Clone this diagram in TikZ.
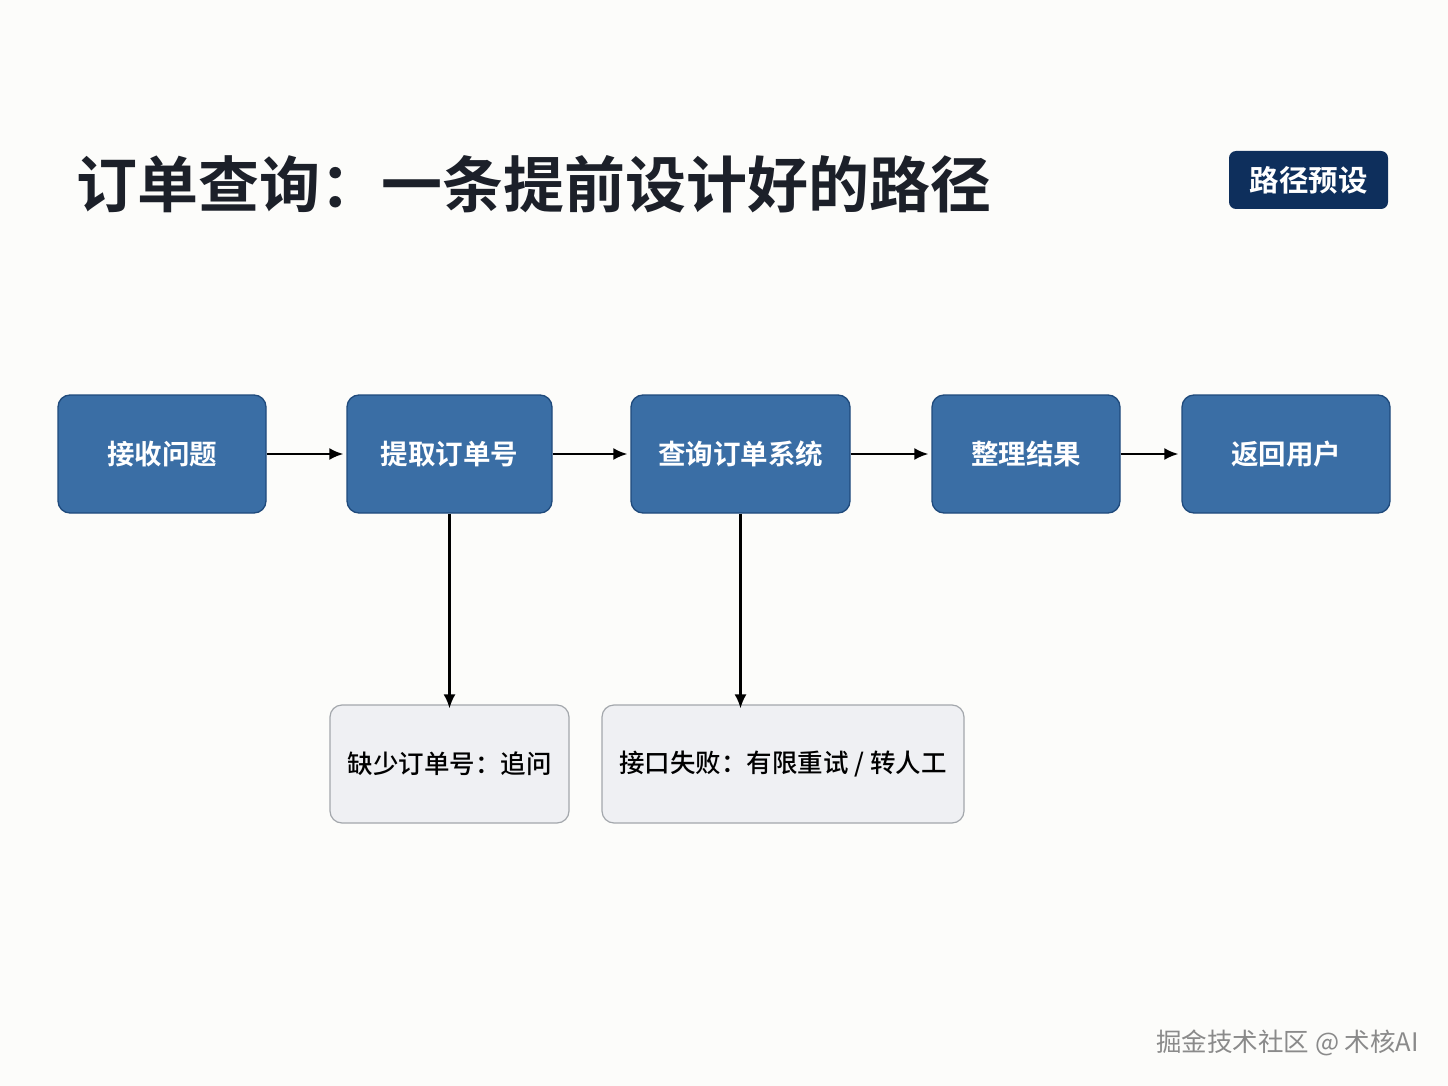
\documentclass[tikz,border=0pt]{standalone}
\usepackage{fontspec}
\setmainfont{Noto Sans CJK SC}
\newfontfamily\cjkbold{Noto Sans CJK SC Bold}
\newfontfamily\cjkmed{Noto Sans CJK SC Medium}
\usetikzlibrary{arrows.meta}
\definecolor{bgc}{HTML}{FCFCFA}
\definecolor{titlec}{HTML}{1C2029}
\definecolor{badgec}{HTML}{0E2F5C}
\definecolor{bluefill}{HTML}{3A6EA5}
\definecolor{blueline}{HTML}{1F4A7C}
\definecolor{grayfill}{HTML}{EFF0F3}
\definecolor{grayline}{HTML}{A3A7AC}
\definecolor{wmc}{HTML}{8A8A8A}
\begin{document}
\begin{tikzpicture}[x=1pt,y=-1pt,
  stepbox/.style={draw=blueline,line width=1.3pt,fill=bluefill,rounded corners=12pt,
    minimum height=118pt,text=white,font=\cjkbold\fontsize{27.5}{32}\selectfont,inner sep=0pt},
  sidebox/.style={draw=grayline,line width=1.2pt,fill=grayfill,rounded corners=12pt,
    minimum height=118pt,text=black,font=\cjkmed\fontsize{25.5}{30}\selectfont,inner sep=0pt},
  flow/.style={draw=black,line width=2.2pt,-{Latex[length=14pt,width=12pt]}}]
\fill[bgc] (0,0) rectangle (1448,1086);
\useasboundingbox (0,0) rectangle (1448,1086);
\node[anchor=west,text=titlec,font=\cjkbold\fontsize{61}{68}\selectfont,inner sep=0pt] (title) at (76,184) {订单查询：一条提前设计好的路径};
\node[fill=badgec,rounded corners=7pt,minimum width=159pt,minimum height=58pt,inner sep=0pt,
  text=white,font=\cjkbold\fontsize{29.5}{34}\selectfont] (badge) at (1308.5,180) {路径预设};
\node[stepbox,minimum width=208pt] (b1) at (162,454) {接收问题};
\node[stepbox,minimum width=205pt] (b2) at (449.5,454) {提取订单号};
\node[stepbox,minimum width=219pt] (b3) at (740.5,454) {查询订单系统};
\node[stepbox,minimum width=188pt] (b4) at (1026,454) {整理结果};
\node[stepbox,minimum width=208pt] (b5) at (1286,454) {返回用户};
\node[sidebox,minimum width=239pt] (g1) at (449.5,764) {缺少订单号：追问};
\node[sidebox,minimum width=362pt] (g2) at (783,764) {接口失败：有限重试 / 转人工};
\draw[flow] (b1.east) -- ([xshift=-3pt]b2.west);
\draw[flow] (b2.east) -- ([xshift=-3pt]b3.west);
\draw[flow] (b3.east) -- ([xshift=-3pt]b4.west);
\draw[flow] (b4.east) -- ([xshift=-3pt]b5.west);
\draw[flow] (b2.south) -- ([yshift=-4pt]b2.south |- g1.north);
\draw[flow] (b3.south) -- ([yshift=-4pt]b3.south |- g2.north);
\node[anchor=east,text=wmc,font=\fontsize{25.5}{30}\selectfont,inner sep=0pt] (wm) at (1419,1043) {掘金技术社区 @ 术核AI};
\end{tikzpicture}
\end{document}
